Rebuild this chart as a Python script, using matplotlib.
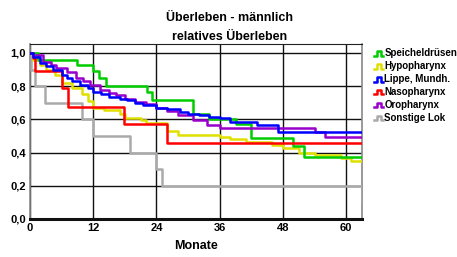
import matplotlib.pyplot as plt
from matplotlib.legend_handler import HandlerBase
from matplotlib.lines import Line2D

plt.rcParams['font.family'] = ['Liberation Sans', 'DejaVu Sans']
plt.rcParams['font.weight'] = 'bold'

# Kaplan-Meier Stufen (Monate, relatives Ueberleben)
labels = ["Speicheldrüsen", "Hypopharynx", "Lippe, Mundh.", "Nasopharynx", "Oropharynx", "Sonstige Lok"]
colors = ["#00cc00", "#e0e000", "#0000ff", "#ff0000", "#9900cc", "#aaaaaa"]

t_speichel = [0, 1.5, 9, 12, 13, 14.5, 22.2, 23.2, 31, 34, 39, 42, 50, 52, 63]
s_speichel = [1.0, 0.96, 0.93, 0.89, 0.85, 0.80, 0.765, 0.717, 0.63, 0.60, 0.57, 0.49, 0.44, 0.375, 0.375]

t_hypo = [0, 0.5, 1.9, 3, 4.7, 6, 8, 9.9, 11, 12, 14, 17, 18, 21, 22, 26, 28, 36, 38, 41, 46, 48, 51, 54, 59, 61, 63]
s_hypo = [1.0, 0.96, 0.93, 0.90, 0.87, 0.82, 0.79, 0.75, 0.71, 0.67, 0.655, 0.63, 0.61, 0.596, 0.578, 0.53, 0.506,
          0.494, 0.48, 0.464, 0.446, 0.428, 0.40, 0.385, 0.367, 0.35, 0.35]

t_lippe = [0, 0.5, 1.9, 3, 4.4, 6, 7, 8, 9.5, 11, 12, 13.5, 15, 17, 18.4, 20, 21.5, 24, 26, 28.5, 30, 32, 34, 36,
           38, 43, 47, 63]
s_lippe = [1.0, 0.976, 0.94, 0.92, 0.90, 0.87, 0.85, 0.83, 0.81, 0.79, 0.765, 0.75, 0.735, 0.725, 0.717, 0.70,
           0.687, 0.67, 0.66, 0.645, 0.635, 0.627, 0.617, 0.607, 0.585, 0.566, 0.524, 0.524]

t_naso = [0, 0.5, 1, 6, 7.2, 17.8, 26, 63]
s_naso = [1.0, 0.97, 0.89, 0.79, 0.675, 0.57, 0.46, 0.46]

t_oro = [0, 0.5, 2.5, 4, 5, 7, 8.8, 10, 11.4, 13.3, 15, 16.4, 18, 20, 22, 24, 26, 28, 31, 33.5, 36, 54, 56, 63]
s_oro = [1.0, 0.988, 0.946, 0.93, 0.91, 0.886, 0.85, 0.83, 0.807, 0.777, 0.76, 0.747, 0.725, 0.705, 0.69, 0.668,
         0.65, 0.627, 0.596, 0.566, 0.548, 0.524, 0.494, 0.494]

t_sonst = [0, 0.15, 1, 2.8, 9.9, 12, 19, 24, 25, 63]
s_sonst = [1.0, 0.9, 0.8, 0.7, 0.6, 0.5, 0.4, 0.3, 0.2, 0.1]

kurven = [(t_speichel, s_speichel), (t_hypo, s_hypo), (t_lippe, s_lippe),
          (t_naso, s_naso), (t_oro, s_oro), (t_sonst, s_sonst)]


class StufenHandler(HandlerBase):
    # kleines Treppensymbol wie im Original
    def create_artists(self, legend, orig, xd, yd, w, h, fontsize, trans):
        xs = [xd, xd + 0.35 * w, xd + 0.35 * w, xd + 0.8 * w, xd + 0.8 * w, xd + w]
        ys = [yd + 0.1 * h, yd + 0.1 * h, yd + 0.8 * h, yd + 0.8 * h, yd + 0.1 * h, yd + 0.1 * h]
        ln = Line2D(xs, ys, color=orig.get_color(), lw=1.8, transform=trans)
        return [ln]


fig = plt.figure(figsize=(4.57, 2.57), dpi=100)
ax = fig.add_axes([30 / 457, 1 - 219 / 257, 332 / 457, 175 / 257])

# grau zuerst, damit die anderen drueber liegen
linien = []
for i in [5, 1, 0, 3, 4, 2]:
    t, s = kurven[i]
    ln, = ax.step(t, s, where='post', color=colors[i], lw=1.8, label=labels[i], zorder=3)
    linien.append((i, ln))
linien.sort()

ax.set_xlim(0, 63)
ax.set_ylim(0, 1.054)
ax.set_xticks([0, 12, 24, 36, 48, 60])
ax.set_yticks([0, 0.2, 0.4, 0.6, 0.8, 1.0])
ax.set_yticklabels(["0,0", "0,2", "0,4", "0,6", "0,8", "1,0"])
ax.tick_params(length=0, labelsize=8, pad=3)
for lb in ax.get_xticklabels() + ax.get_yticklabels():
    lb.set_fontweight('bold')

ax.grid(True, color='#111111', lw=1.0, zorder=1)
ax.set_axisbelow(True)
for side in ['left', 'right']:
    ax.spines[side].set_color('#888888')
    ax.spines[side].set_linewidth(1.2)
ax.spines['top'].set_color('#222222')
ax.spines['bottom'].set_linewidth(2.2)
ax.spines['bottom'].set_color('#111111')

ax.set_xlabel("Monate", fontsize=9, fontweight='bold', labelpad=5)

fig.text(0.503, 0.93, "Überleben - männlich", ha='center', va='center', fontsize=9, fontweight='bold')
fig.text(0.503, 0.855, "relatives Überleben", ha='center', va='center', fontsize=9, fontweight='bold')

leg = ax.legend([ln for _, ln in linien], [labels[i] for i, _ in linien],
                handler_map={Line2D: StufenHandler()},
                loc='upper left', bbox_to_anchor=(1.035, 0.975), frameon=False,
                fontsize=7, handlelength=1.0, handletextpad=0.1, labelspacing=0.3, borderaxespad=0,
                borderpad=0)
for tx in leg.get_texts():
    tx.set_fontweight('bold')

fig.savefig("out.png", dpi=100)
